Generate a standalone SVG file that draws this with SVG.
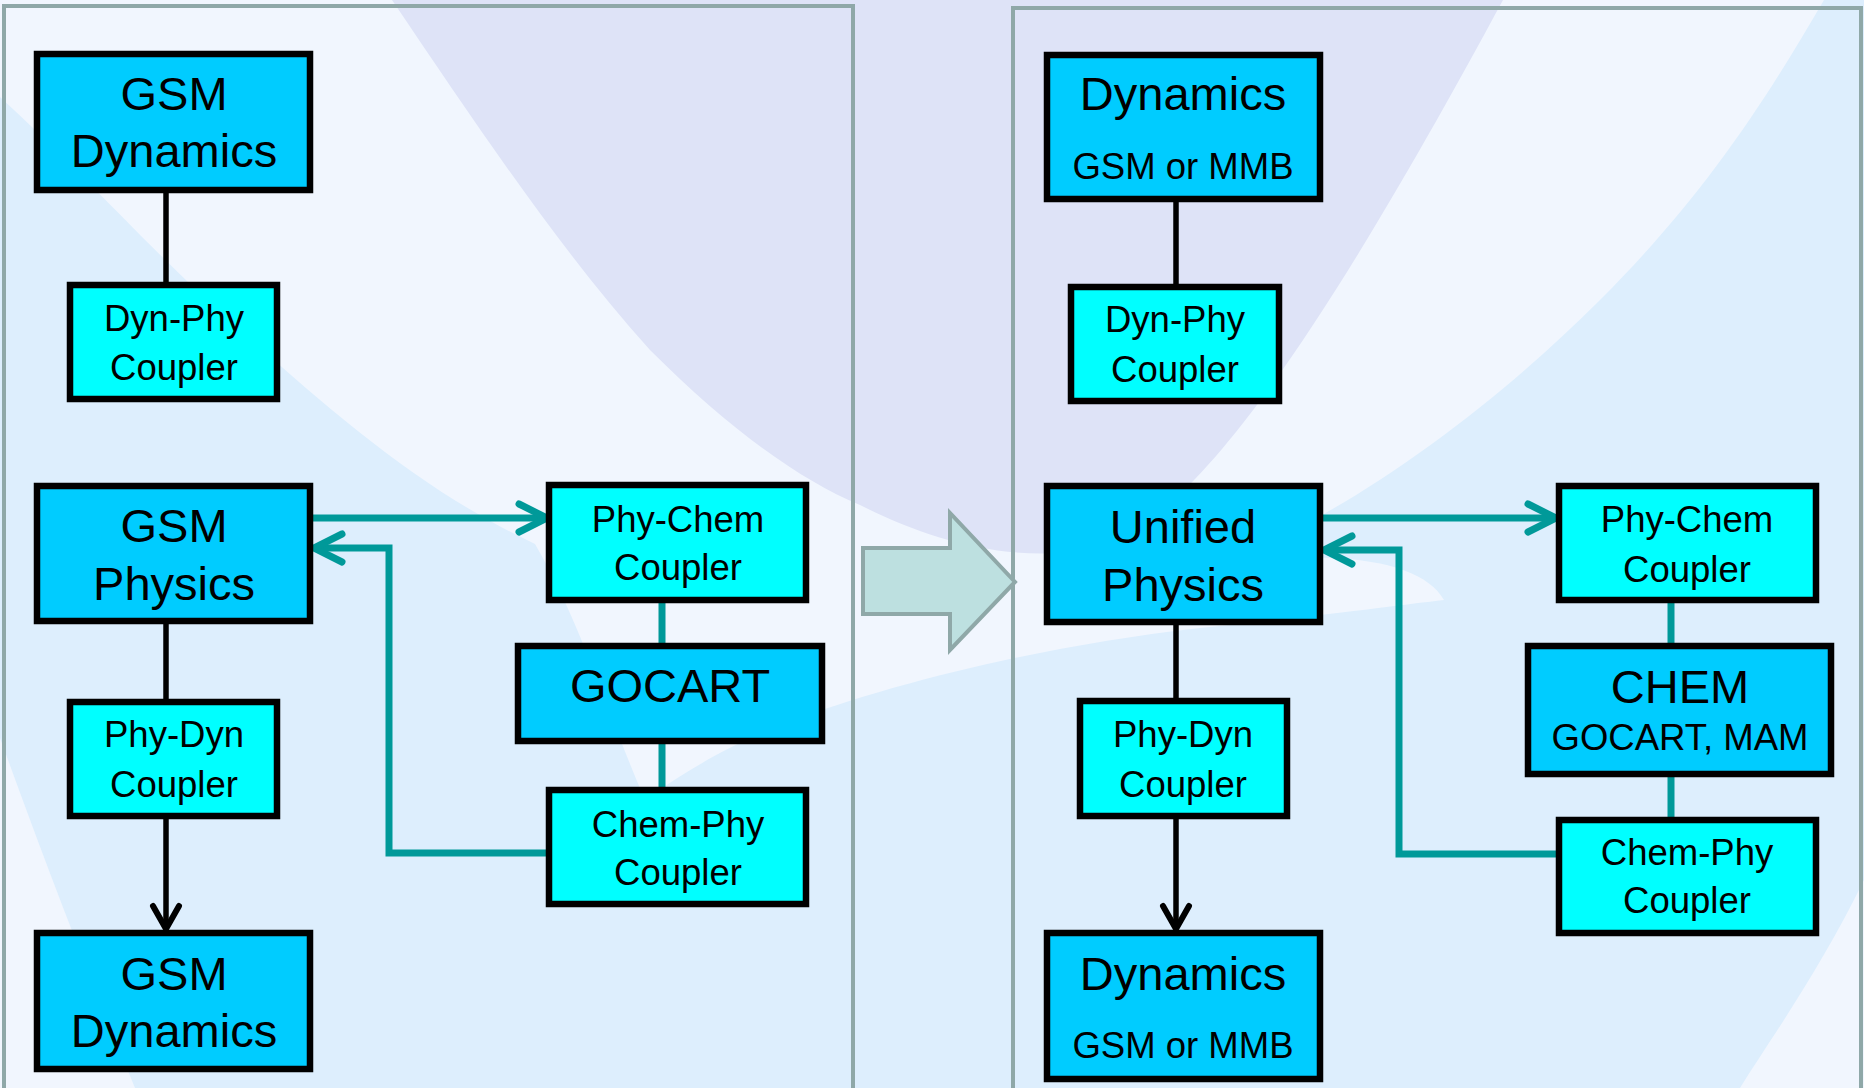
<svg xmlns="http://www.w3.org/2000/svg" width="1864" height="1088" viewBox="0 0 1864 1088">
  <defs>
    <style>
      .box { stroke: #000; stroke-width: 6.5; }
      .main { fill: #00ccff; }
      .cpl { fill: #00ffff; }
      text { font-family: "Liberation Sans", Arial, sans-serif; fill: #000; text-anchor: middle; }
      .big { font-size: 47px; }
      .sm { font-size: 36.5px; }
      .blk { stroke: #000; stroke-width: 5.5; fill: none; }
      .teal { stroke: #009999; stroke-width: 7; fill: none; }
      .panel { fill: none; stroke: #8fa8a8; stroke-width: 4; }
    </style>
    <marker id="arrT" markerUnits="userSpaceOnUse" orient="auto" refX="0" refY="0" markerWidth="60" markerHeight="60" overflow="visible">
      <path d="M-28,-14 L0,0 L-28,14" fill="none" stroke="#009999" stroke-width="7" stroke-linecap="round" stroke-linejoin="miter"/>
    </marker>
    <marker id="arrB" markerUnits="userSpaceOnUse" orient="auto" refX="0" refY="0" markerWidth="60" markerHeight="60" overflow="visible">
      <path d="M-23,-13 L0,0 L-23,13" fill="none" stroke="#000" stroke-width="6" stroke-linecap="round" stroke-linejoin="miter"/>
    </marker>
  </defs>

  <!-- background -->
  <g id="background">
    <rect x="0" y="0" width="1864" height="1088" fill="#ddeefd"/>
    <path d="M0,0 L1824,0 C1760,110 1700,200 1600,300 C1520,380 1420,460 1322,515 C1240,555 1150,585 1060,605 C1150,580 1260,555 1330,558 C1390,560 1430,575 1444,600 C1400,605 1330,615 1200,628 C1050,645 900,680 780,725 C720,750 680,775 645,800 C610,720 580,620 535,544 C420,490 330,410 240,330 C160,260 80,170 0,97 Z" fill="#f1f6fe"/>
    <path d="M392,0 C480,130 560,250 650,350 C730,430 800,480 860,505 C930,540 1010,565 1100,548 C1200,515 1330,320 1503,0 Z" fill="#dee3f7"/>
    <path d="M0,738 C30,820 70,930 135,1088 L0,1088 Z" fill="#f1f6fe"/>
    <path d="M1864,880 C1820,970 1770,1040 1740,1088 L1864,1088 Z" fill="#f1f6fe"/>
  </g>

  <!-- panels -->
  <g id="panels">
    <rect class="panel" x="4" y="6" width="849" height="1100"/>
    <rect class="panel" x="1013" y="8" width="848" height="1100"/>
    <polygon points="863,548 950,548 950,513 1015,582 950,650 950,614 863,614" fill="#bde0e0" stroke="#8fa8a8" stroke-width="4"/>
  </g>

  <!-- connectors -->
  <g id="connectors">
    <line class="blk" x1="166" y1="193" x2="166" y2="285"/>
    <line class="blk" x1="166" y1="621" x2="166" y2="702"/>
    <line class="blk" x1="166" y1="819" x2="166" y2="929" marker-end="url(#arrB)"/>
    <line class="blk" x1="1176" y1="202" x2="1176" y2="287"/>
    <line class="blk" x1="1176" y1="625" x2="1176" y2="701"/>
    <line class="blk" x1="1176" y1="819" x2="1176" y2="929" marker-end="url(#arrB)"/>

    <line class="teal" x1="313" y1="518" x2="547" y2="518" marker-end="url(#arrT)"/>
    <polyline class="teal" points="549,853 389,853 389,548 314,548" marker-end="url(#arrT)"/>
    <line class="teal" x1="662" y1="603" x2="662" y2="643"/>
    <line class="teal" x1="662" y1="744" x2="662" y2="787"/>

    <line class="teal" x1="1323" y1="518" x2="1556" y2="518" marker-end="url(#arrT)"/>
    <polyline class="teal" points="1559,854 1399,854 1399,550 1324,550" marker-end="url(#arrT)"/>
    <line class="teal" x1="1671" y1="603" x2="1671" y2="643"/>
    <line class="teal" x1="1671" y1="777" x2="1671" y2="817"/>
  </g>

  <!-- left nodes -->
  <g id="gsm-dyn-top">
    <rect class="box main" x="37" y="54" width="273" height="136"/>
    <text class="big" x="174" y="110">GSM</text>
    <text class="big" x="174" y="167">Dynamics</text>
  </g>
  <g id="dyn-phy-left">
    <rect class="box cpl" x="70" y="285" width="207" height="114"/>
    <text class="sm" x="174" y="331">Dyn-Phy</text>
    <text class="sm" x="174" y="380">Coupler</text>
  </g>
  <g id="gsm-physics">
    <rect class="box main" x="37" y="486" width="273" height="135"/>
    <text class="big" x="174" y="542">GSM</text>
    <text class="big" x="174" y="600">Physics</text>
  </g>
  <g id="phy-dyn-left">
    <rect class="box cpl" x="70" y="702" width="207" height="114"/>
    <text class="sm" x="174" y="747">Phy-Dyn</text>
    <text class="sm" x="174" y="797">Coupler</text>
  </g>
  <g id="gsm-dyn-bottom">
    <rect class="box main" x="37" y="933" width="273" height="136"/>
    <text class="big" x="174" y="990">GSM</text>
    <text class="big" x="174" y="1047">Dynamics</text>
  </g>
  <g id="phy-chem-left">
    <rect class="box cpl" x="549" y="485" width="257" height="115"/>
    <text class="sm" x="678" y="532">Phy-Chem</text>
    <text class="sm" x="678" y="580">Coupler</text>
  </g>
  <g id="gocart">
    <rect class="box main" x="518" y="646" width="304" height="95"/>
    <text class="big" x="670" y="702">GOCART</text>
  </g>
  <g id="chem-phy-left">
    <rect class="box cpl" x="549" y="790" width="257" height="114"/>
    <text class="sm" x="678" y="837">Chem-Phy</text>
    <text class="sm" x="678" y="885">Coupler</text>
  </g>

  <!-- right nodes -->
  <g id="dynamics-top">
    <rect class="box main" x="1047" y="55" width="273" height="144"/>
    <text class="big" x="1183" y="110">Dynamics</text>
    <text class="sm" x="1183" y="179">GSM or MMB</text>
  </g>
  <g id="dyn-phy-right">
    <rect class="box cpl" x="1071" y="287" width="208" height="114"/>
    <text class="sm" x="1175" y="332">Dyn-Phy</text>
    <text class="sm" x="1175" y="382">Coupler</text>
  </g>
  <g id="unified-physics">
    <rect class="box main" x="1047" y="486" width="273" height="136"/>
    <text class="big" x="1183" y="543">Unified</text>
    <text class="big" x="1183" y="601">Physics</text>
  </g>
  <g id="phy-dyn-right">
    <rect class="box cpl" x="1080" y="701" width="207" height="115"/>
    <text class="sm" x="1183" y="747">Phy-Dyn</text>
    <text class="sm" x="1183" y="797">Coupler</text>
  </g>
  <g id="dynamics-bottom">
    <rect class="box main" x="1047" y="933" width="273" height="146"/>
    <text class="big" x="1183" y="990">Dynamics</text>
    <text class="sm" x="1183" y="1058">GSM or MMB</text>
  </g>
  <g id="phy-chem-right">
    <rect class="box cpl" x="1559" y="486" width="257" height="114"/>
    <text class="sm" x="1687" y="532">Phy-Chem</text>
    <text class="sm" x="1687" y="582">Coupler</text>
  </g>
  <g id="chem">
    <rect class="box main" x="1528" y="646" width="303" height="128"/>
    <text class="big" x="1680" y="703">CHEM</text>
    <text class="sm" x="1680" y="750">GOCART, MAM</text>
  </g>
  <g id="chem-phy-right">
    <rect class="box cpl" x="1559" y="820" width="257" height="113"/>
    <text class="sm" x="1687" y="865">Chem-Phy</text>
    <text class="sm" x="1687" y="913">Coupler</text>
  </g>
</svg>
